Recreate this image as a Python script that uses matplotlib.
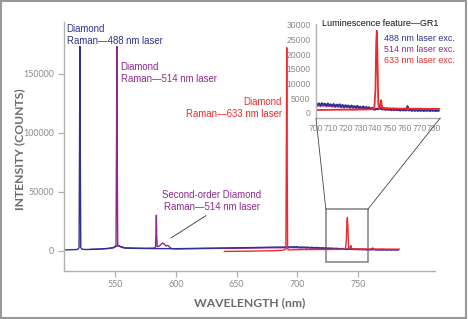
import matplotlib
matplotlib.use("Agg")
import matplotlib.pyplot as plt
from matplotlib.patches import Rectangle, ConnectionPatch

# ---------------- data ----------------
# 488 nm excitation (survey region)
b488_wl_main = [508, 512, 516, 519, 520.4, 520.8, 521.1, 521.4, 521.8, 523, 526, 535, 545, 549,
                551, 553, 555, 558, 565, 580, 600, 620, 640, 660, 680, 699]
b488_ct_main = [600, 800, 900, 1000, 2500, 90000, 173000, 90000, 2500, 1200, 1000, 1200, 2000, 2800,
                3800, 4200, 3000, 2200, 2000, 1800, 1700, 2000, 2300, 2600, 3000, 3300]
# 488 nm excitation (GR1 region, 700-783 nm)
b488_wl_gr1 = [700, 701, 702, 703, 704, 705, 706, 707, 708, 709, 710, 711, 712, 713, 714, 715, 716, 717,
               718, 719, 720, 721, 722, 723, 724, 725, 726, 727, 728, 729, 730, 731, 732, 733, 734, 735,
               736, 737, 738, 739, 740, 741, 742, 743, 744, 745, 746, 747, 748, 749, 750, 751, 752, 753,
               754, 755, 756, 757, 758, 759, 760, 761, 762, 763, 764, 765, 766, 767, 768, 769, 770, 771,
               772, 773, 774, 775, 776, 777, 778, 779, 780, 781, 782, 783]
b488_ct_gr1 = [3400, 2700, 3200, 2600, 3300, 2800, 3100, 2500, 3200, 2600, 2900, 2400, 3000, 2300, 2800,
               2400, 2900, 2200, 2700, 2100, 2600, 2200, 2500, 1900, 2500, 2000, 2300, 1800, 2400, 1800,
               2100, 1700, 2200, 1600, 2000, 1500, 1900, 1400, 1700, 1200, 1000, 1400, 1300, 1600, 1700,
               1200, 1600, 1100, 1500, 1100, 1400, 1000, 1400, 900, 1300, 900, 1200, 800, 1200, 900,
               1100, 900, 2300, 1000, 1100, 700, 1100, 700, 1000, 600, 1100, 700, 1000, 600, 1000,
               700, 1100, 600, 1000, 700, 1000, 600, 900, 700]

# 514 nm excitation
p514_wl_main = [530, 540, 546, 549, 550.8, 551.2, 551.5, 551.8, 552.2, 553, 555, 558, 565, 575, 582,
                583.3, 583.7, 584.0, 584.3, 584.7, 585.5, 587, 589, 590.5, 592, 593.5, 595, 596.5,
                600, 620, 640, 660, 680, 699]
p514_ct_main = [1200, 1500, 2000, 2500, 4500, 90000, 173000, 90000, 5000, 4000, 3500, 2500, 2200, 2000,
                2200, 3000, 16000, 30000, 12000, 3500, 3500, 4500, 6500, 5500, 4000, 4500, 3000, 1800,
                1500, 1800, 2000, 2200, 2500, 2600]
p514_wl_gr1 = b488_wl_gr1
p514_ct_gr1 = [2700, 2300, 2800, 2200, 2600, 2300, 2700, 2100, 2500, 2200, 2400, 2000, 2500, 1900, 2300,
               2000, 2200, 1800, 2200, 1700, 2100, 1800, 2000, 1600, 2000, 1600, 1900, 1500, 1800, 1500,
               1700, 1400, 1700, 1300, 1600, 1300, 1500, 1200, 1400, 1100, 1200, 1300, 1100, 1400, 1300,
               1000, 1300, 900, 1200, 900, 1100, 800, 1100, 800, 1100, 800, 1000, 700, 1000, 700,
               900, 700, 1000, 700, 900, 600, 900, 600, 900, 600, 800, 600, 900, 500, 800,
               600, 900, 500, 800, 600, 800, 500, 800, 600]

# 633 nm excitation
r633_wl_main = [640, 650, 660, 670, 680, 688, 690.6, 691.0, 691.3, 691.6, 692.0, 693, 695, 699]
r633_ct_main = [-600, -500, -400, -200, 0, 300, 1500, 90000, 172000, 90000, 1500, 600, 700, 850]
r633_wl_gr1 = [700, 705, 710, 715, 720, 725, 730, 735, 738, 739.5, 740.3, 740.8, 741.2, 741.6, 742.2,
               742.8, 743.6, 744.1, 744.7, 745.5, 748, 752, 756, 760, 765, 770, 775, 780, 784]
r633_ct_gr1 = [900, 950, 1000, 1000, 1050, 1000, 1100, 1100, 1200, 1600, 8000, 24000, 28000, 20000, 3000,
               1300, 3000, 4300, 2000, 1500, 1500, 1450, 1400, 1400, 1350, 1400, 1300, 1300, 1300]

main_xticks = [550, 600, 650, 700, 750]
main_yticks = [0, 50000, 100000, 150000]
inset_xticks = [700, 710, 720, 730, 740, 750, 760, 770, 780]
inset_yticks = [0, 5000, 10000, 15000, 20000, 25000, 30000]

# ---------------- style ----------------
C488 = "#2e3192"
C514 = "#8e2a8e"
C633 = "#ee2a2a"
GRAY = "#8a8a8a"
SPINE = "#b0b0b0"
ANN_FONT = ["Liberation Sans", "DejaVu Sans"]
LAB_FONT = ["Lato", "DejaVu Sans"]

W, H = 468, 319
fig = plt.figure(figsize=(W / 100, H / 100), dpi=100)

def fx(px):
    return px / W

def fy(py):
    return 1 - py / H

# main axes
ax = fig.add_axes([fx(64), fy(270.7), fx(435) - fx(64), fy(21.7) - fy(270.7)])
wl488 = b488_wl_main + b488_wl_gr1
ct488 = b488_ct_main + b488_ct_gr1
wl514 = p514_wl_main + p514_wl_gr1
ct514 = p514_ct_main + p514_ct_gr1
wl633 = r633_wl_main + r633_wl_gr1
ct633 = r633_ct_main + r633_ct_gr1

ax.plot(wl514, ct514, color=C514, lw=1.0)
ax.plot(wl488, ct488, color=C488, lw=1.0)
ax.plot(wl633, ct633, color=C633, lw=1.0)

ax.set_xlim(508, 813.3)
ax.set_ylim(-16950, 194000)
ax.set_xticks(main_xticks)
ax.set_yticks(main_yticks)
for s in ["top", "right"]:
    ax.spines[s].set_visible(False)
for s in ["left", "bottom"]:
    ax.spines[s].set_color(SPINE)
    ax.spines[s].set_linewidth(1.0)
ax.tick_params(axis="both", colors=SPINE, length=4, width=0.9, pad=3, labelsize=6.4,
               labelcolor=GRAY)
for lab in ax.get_xticklabels() + ax.get_yticklabels():
    lab.set_family(LAB_FONT)

# zoom rectangle
ax.add_patch(Rectangle((723.5, -10000), 34.5, 45000, fill=False, edgecolor="#808080", lw=1.1))

# annotations
ax.text(510.2, 183100, "Diamond\nRaman\u2014488 nm laser", color=C488, fontsize=6.9,
        family=ANN_FONT, ha="left", va="center", linespacing=1.25)
ax.text(554.6, 150500, "Diamond\nRaman\u2014514 nm laser", color=C514, fontsize=6.9,
        family=ANN_FONT, ha="left", va="center", linespacing=1.25)
ax.text(687.4, 120900, "Diamond\nRaman\u2014633 nm laser", color=C633, fontsize=6.9,
        family=ANN_FONT, ha="right", va="center", linespacing=1.25)
ax.text(629.8, 42100, "Second-order Diamond\nRaman\u2014514 nm laser", color=C514, fontsize=6.9,
        family=ANN_FONT, ha="center", va="center", linespacing=1.25)
ax.plot([624.8, 596], [29650, 10760], color="#333333", lw=0.6)

# axis labels
fig.text(fx(249.5), fy(303), "WAVELENGTH (nm)", color="#6a6a6a", fontsize=8.7,
         family=LAB_FONT, weight="bold", ha="center", va="center")
fig.text(fx(19.5), fy(149), "INTENSITY (COUNTS)", color="#6a6a6a", fontsize=8.7,
         family=LAB_FONT, weight="bold", ha="center", va="center", rotation=90)

# inset
ins = fig.add_axes([fx(316), fy(118.3), fx(440) - fx(316), fy(24) - fy(118.3)])
ins.plot(p514_wl_gr1, p514_ct_gr1, color=C514, lw=1.3)
ins.plot(b488_wl_gr1, b488_ct_gr1, color=C488, lw=1.3)
ins.plot(r633_wl_gr1, r633_ct_gr1, color=C633, lw=1.3)
ins.set_xlim(700, 784)
ins.set_ylim(-1916, 30342)
ins.set_xticks(inset_xticks)
ins.set_yticks(inset_yticks)
ins.patch.set_alpha(0)
for s in ["top", "right"]:
    ins.spines[s].set_visible(False)
for s in ["left", "bottom"]:
    ins.spines[s].set_color(SPINE)
    ins.spines[s].set_linewidth(1.0)
ins.tick_params(axis="both", colors=SPINE, length=0, pad=4, labelsize=6.2, labelcolor=GRAY)
for lab in ins.get_xticklabels() + ins.get_yticklabels():
    lab.set_family(ANN_FONT)

ins.text(704, 30400, "Luminescence feature\u2014GR1", color="#111111", fontsize=6.5,
         family=ANN_FONT, ha="left", va="center", clip_on=False)
ins.text(745.9, 25300, "488 nm laser exc.", color=C488, fontsize=6.4, family=ANN_FONT,
         ha="left", va="center")
ins.text(745.9, 21450, "514 nm laser exc.", color=C514, fontsize=6.4, family=ANN_FONT,
         ha="left", va="center")
ins.text(745.9, 17790, "633 nm laser exc.", color=C633, fontsize=6.4, family=ANN_FONT,
         ha="left", va="center")

# connector lines
for (xa, xb) in [(723.5, 0.0), (758.0, 1.0)]:
    cp = ConnectionPatch(xyA=(xa, 35000), coordsA=ax.transData,
                         xyB=(xb, 0.0), coordsB=ins.transAxes,
                         color="#444444", lw=0.6)
    fig.add_artist(cp)

# figure border
fig.add_artist(Rectangle((fx(1), fy(318)), fx(466) - fx(1), fy(1) - fy(318),
                         transform=fig.transFigure, fill=False, edgecolor="#999999", lw=1.5))

fig.savefig("out.png", dpi=100)
